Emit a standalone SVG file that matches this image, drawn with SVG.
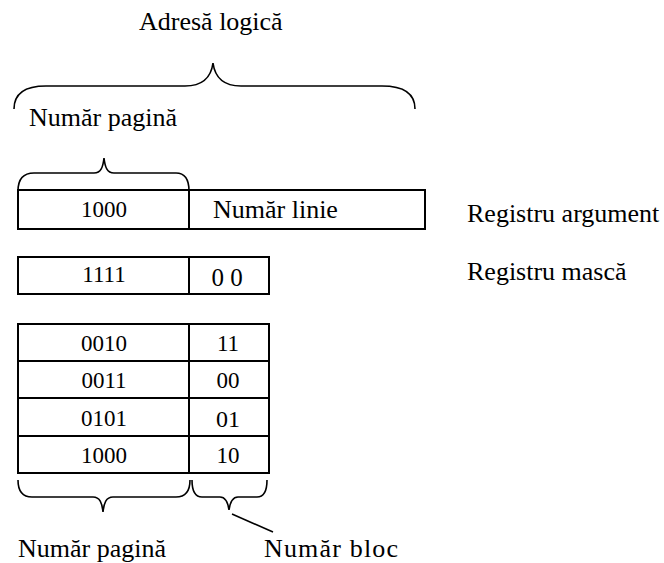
<svg xmlns="http://www.w3.org/2000/svg" width="664" height="563" viewBox="0 0 664 563">
  <style>
    .box { fill: #fff; stroke: #000; stroke-width: 2; }
    .rule { stroke: #000; stroke-width: 2; fill: none; }
    .brace { fill: none; stroke: #000; stroke-width: 1.6; }
    .lbl { font-family: "Liberation Serif", "Times New Roman", Times, serif; font-size: 26px; fill: #000; }
    .num { font-family: "Liberation Serif", "Times New Roman", Times, serif; font-size: 23px; fill: #000; text-anchor: middle; }
  </style>
  <rect width="664" height="563" fill="#fff"/>

  <!-- logical address brace and caption -->
  <g id="adresa-logica">
    <text class="lbl" x="139" y="30">Adresă logică</text>
    <path class="brace" d="M14,109 C14,94 24,86 46,86 L185,86 C202,86 211,78 213,63 C215,78 224,86 241,86 L382,86 C404,86 415,94 415,109"/>
  </g>

  <!-- page number brace over the argument register -->
  <g id="numar-pagina-sus">
    <text class="lbl" x="29" y="126">Număr pagină</text>
    <path class="brace" d="M18,191 C18,180 23,173 34,173 L94,173 C101,173 103,167 104,158 C105,167 107,173 114,173 L176,173 C186,173 189,180 189,191"/>
  </g>

  <!-- argument register -->
  <g id="registru-argument">
    <rect class="box" x="18" y="190" width="407" height="39"/>
    <line class="rule" x1="189" y1="190" x2="189" y2="229"/>
    <text class="num" x="104" y="217">1000</text>
    <text class="lbl" x="213" y="218">Număr linie</text>
    <text class="lbl" x="467" y="222">Registru argument</text>
  </g>

  <!-- mask register -->
  <g id="registru-masca">
    <rect class="box" x="18" y="257" width="251" height="37"/>
    <line class="rule" x1="189" y1="257" x2="189" y2="294"/>
    <text class="num" x="104" y="282">1111</text>
    <text class="num" x="227" y="286" style="font-size:25px">0 0</text>
    <text class="lbl" x="467" y="280">Registru mască</text>
  </g>

  <!-- associative table: page number / block number -->
  <g id="tabel">
    <rect class="box" x="18" y="324" width="251" height="149"/>
    <line class="rule" x1="189" y1="324" x2="189" y2="473"/>
    <line class="rule" x1="18" y1="361" x2="269" y2="361"/>
    <line class="rule" x1="18" y1="398" x2="269" y2="398"/>
    <line class="rule" x1="18" y1="436" x2="269" y2="436"/>
    <text class="num" x="104" y="351">0010</text>
    <text class="num" x="228" y="351">11</text>
    <text class="num" x="104" y="388">0011</text>
    <text class="num" x="228" y="388">00</text>
    <text class="num" x="104" y="426">0101</text>
    <text class="num" x="228" y="427" style="font-size:24px">01</text>
    <text class="num" x="104" y="463">1000</text>
    <text class="num" x="228" y="463">10</text>
  </g>

  <!-- braces under the table -->
  <g id="numar-pagina-jos">
    <path class="brace" d="M18,480 C18,491 22,497 32,497 L93,497 C100,497 102,503 103,512 C104,503 106,497 113,497 L176,497 C186,497 190,491 190,480"/>
    <text class="lbl" x="18" y="557">Număr pagină</text>
  </g>

  <g id="numar-bloc">
    <path class="brace" d="M192,480 C192,491 195,497 202,497 L220,497 C226,497 228,503 229,510 C230,503 232,497 238,497 L257,497 C264,497 267,491 267,480"/>
    <text class="lbl" x="264" y="557" textLength="134" lengthAdjust="spacing">Număr bloc</text>
  </g>

  <!-- leader from the block-number brace to its caption -->
  <g id="conectori">
    <line x1="232" y1="514" x2="273" y2="532" stroke="#000" stroke-width="1.6"/>
  </g>
</svg>
